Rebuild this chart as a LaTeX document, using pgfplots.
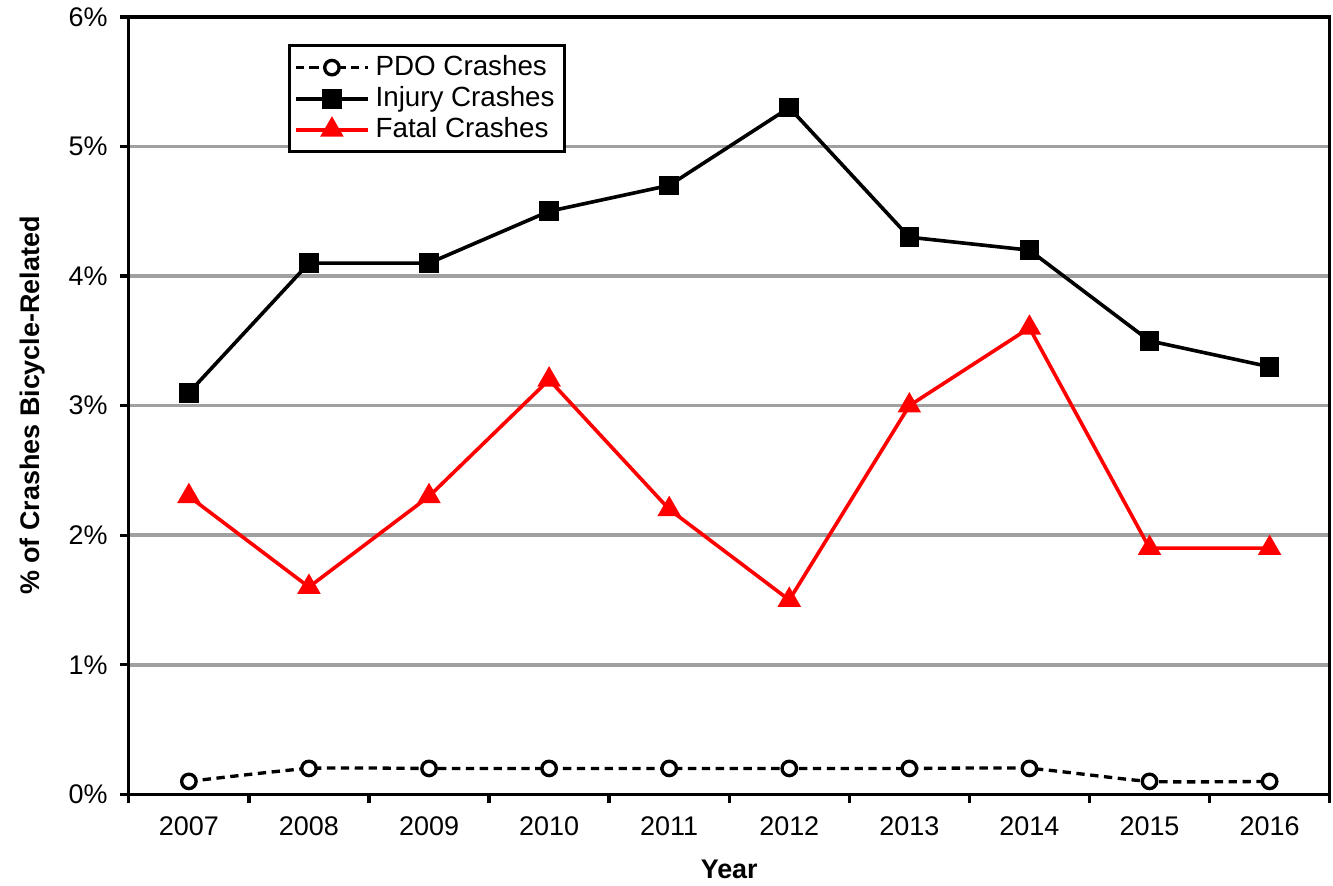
\documentclass[border=0pt]{standalone}
\usepackage{pgfplots}
\pgfplotsset{compat=1.18}
\usepackage{fontspec}
\setmainfont{Liberation Sans}
\definecolor{gridgray}{HTML}{A0A0A0}
\begin{document}
\fontsize{9.7}{11.6}\selectfont
\begin{tikzpicture}
\begin{axis}[
  name=ax,
  scale only axis,
  width=432.5pt, height=280pt,
  xmin=-0.5, xmax=9.5, ymin=0, ymax=6,
  axis line style={line width=1.2pt},
  xtick={0,...,9},
  xticklabels={2007,2008,2009,2010,2011,2012,2013,2014,2015,2016},
  minor xtick={-0.5,0.5,...,9.5},
  major x tick style={draw=none},
  minor x tick style={line width=1.2pt, black},
  ytick={0,1,2,3,4,5,6},
  yticklabels={0\%,1\%,2\%,3\%,4\%,5\%,6\%},
  ytick style={line width=1.2pt, black},
  xtick pos=lower, ytick pos=left,
  tick align=outside,
  major tick length=3.2pt,
  minor tick length=3.2pt,
  ymajorgrids,
  major grid style={line width=1.3pt, gridgray},
  xticklabel style={font=\fontsize{9.7}{11.6}\selectfont, yshift=-1.5pt},
  yticklabel style={font=\fontsize{9.7}{11.6}\selectfont, xshift=-1pt},
  xlabel={\textbf{Year}},
  ylabel={\textbf{\% of Crashes Bicycle-Related}},
  xlabel style={font=\fontsize{9.7}{11.6}\selectfont, yshift=-2pt},
  ylabel style={font=\fontsize{9.7}{11.6}\selectfont, yshift=2pt},
  legend cell align=left,
  legend style={at={(0.1325,0.965)}, anchor=north west, draw=black, line width=1.2pt,
    font=\fontsize{10}{11.6}\selectfont, inner sep=1.5pt, row sep=-1.5pt},
  legend image code/.code={\draw[mark repeat=2,mark phase=2,#1] plot coordinates {(0cm,0cm) (0.46cm,0cm) (0.92cm,0cm)};},
  clip=false,
]
\addplot[black, line width=1.2pt, densely dashed, smooth, tension=0.3,
  mark=*, mark size=2.6pt, mark options={solid, fill=white, draw=black, line width=1.2pt}]
  coordinates {(0,0.1) (1,0.2) (2,0.2) (3,0.2) (4,0.2) (5,0.2) (6,0.2) (7,0.2) (8,0.1) (9,0.1)};
\addlegendentry{PDO Crashes}
\addplot[black, line width=1.3pt, mark=square*, mark size=2.9pt, mark options={solid, fill=black}]
  coordinates {(0,3.1) (1,4.1) (2,4.1) (3,4.5) (4,4.7) (5,5.3) (6,4.3) (7,4.2) (8,3.5) (9,3.3)};
\addlegendentry{Injury Crashes}
\addplot[red, line width=1.3pt, mark=triangle*, mark size=3.6pt, mark options={solid, fill=red}]
  coordinates {(0,2.3) (1,1.6) (2,2.3) (3,3.2) (4,2.2) (5,1.5) (6,3.0) (7,3.6) (8,1.9) (9,1.9)};
\addlegendentry{Fatal Crashes}
\end{axis}
\pgfresetboundingbox
\path (ax.south west) ++(-46.4pt,-32.8pt) rectangle ++(480.1pt,318.9pt);
\end{tikzpicture}
\end{document}
